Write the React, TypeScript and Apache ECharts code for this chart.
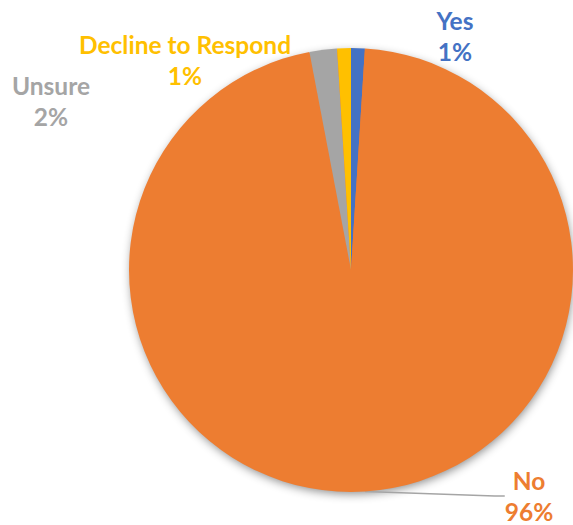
import React, { useEffect, useRef } from "react";
import * as echarts from "echarts";

const categories = ["Yes", "No", "Unsure", "Decline to Respond"];
const values = [1, 96, 2, 1];
const colors = ["#4472C4", "#ED7D31", "#A5A5A5", "#FFC000"];
const labelPos: [number, number][] = [
  [455, 36],
  [529, 496],
  [51, 101],
  [185, 60],
];

export default function App() {
  const ref = useRef<HTMLDivElement>(null);
  useEffect(() => {
    if (!ref.current) return;
    const chart = echarts.init(ref.current, undefined, { renderer: "svg" });
    const cx = 351;
    const cy = 270;
    const r = 222;
    chart.setOption({
      animation: false,
      graphic: [
        {
          type: "circle",
          shape: { cx, cy, r: r - 1 },
          z: -1,
          silent: true,
          style: {
            fill: "#ED7D31",
            shadowBlur: 10,
            shadowColor: "rgba(0,0,0,0.45)",
            shadowOffsetX: 1,
            shadowOffsetY: 3,
          },
        },
      ],
      series: [
        {
          type: "pie",
          center: [cx, cy],
          radius: [0, r],
          startAngle: 90,
          clockwise: true,
          data: categories.map((name, i) => ({
            name,
            value: values[i],
            itemStyle: { color: colors[i] },
            label: { color: colors[i] },
            labelLine: { show: i === 1 },
          })),
          itemStyle: { borderWidth: 0 },
          label: {
            show: true,
            position: "outside",
            formatter: (p: any) => `${p.name}\n${Math.round(p.percent)}%`,
            fontFamily: "Lato",
            fontWeight: "bold",
            fontSize: 24.5,
            lineHeight: 31,
            align: "center",
          },
          labelLine: {
            show: true,
            length: 10,
            length2: 10,
            lineStyle: { color: "#A5A5A5", width: 1.5 },
          },
          labelLayout: (params: any) => {
            const p = labelPos[params.dataIndex];
            return {
              x: p[0],
              y: p[1],
              align: "center",
              verticalAlign: "middle",
            };
          },
        },
      ],
    });
    return () => chart.dispose();
  }, []);
  return (
    <div
      ref={ref}
      style={{ position: "fixed", left: 0, top: 0, width: 573, height: 525, background: "#fff" }}
    />
  );
}
